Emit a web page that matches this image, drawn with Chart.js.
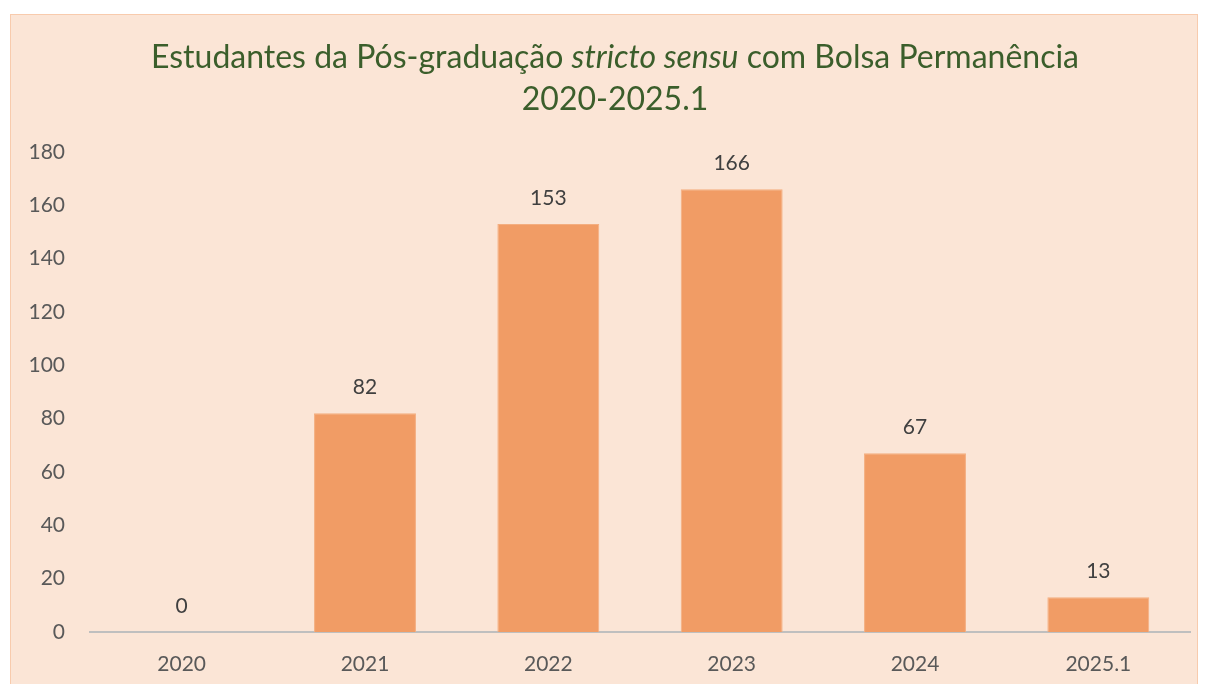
<!DOCTYPE html>
<html>
<head>
<meta charset="utf-8">
<script src="https://cdn.jsdelivr.net/npm/chart.js@4"></script>
<style>
  html, body { margin: 0; padding: 0; background: #ffffff; overflow: hidden; }
  #box {
    position: absolute; left: 10px; top: 14px;
    width: 1186px; height: 690px;
    border: 1px solid #F8CBAD;
    background: #FBE5D6;
  }
  #box canvas { display: block; }
</style>
</head>
<body>
<div id="box"><canvas id="bolsa" width="1186" height="680"></canvas></div>
<script>
const anos = ['2020', '2021', '2022', '2023', '2024', '2025.1'];
const estudantes = [0, 82, 153, 166, 67, 13];
const yTicks = [0, 20, 40, 60, 80, 100, 120, 140, 160, 180];

const fonte = 'Lato, "Open Sans", sans-serif';

// title with a partly italic first line
const tituloPlugin = {
    id: 'titulo',
    afterDraw(chart) {
        const ctx = chart.ctx;
        const partes = [
            ['normal', 'Estudantes da Pós-graduação '],
            ['italic', 'stricto sensu'],
            ['normal', ' com Bolsa Permanência'],
        ];
        ctx.save();
        ctx.fillStyle = '#3B5E2B';
        ctx.textBaseline = 'alphabetic';
        let total = 0;
        partes.forEach(p => {
            ctx.font = p[0] + ' 32px ' + fonte;
            total += ctx.measureText(p[1]).width;
        });
        let x = 604 - total / 2;
        ctx.textAlign = 'left';
        partes.forEach(p => {
            ctx.font = p[0] + ' 32px ' + fonte;
            ctx.fillText(p[1], x, 53);
            x += ctx.measureText(p[1]).width;
        });
        ctx.font = '32px ' + fonte;
        ctx.textAlign = 'center';
        ctx.fillText('2020-2025.1', 604, 95);
        ctx.restore();
    }
};

const valoresPlugin = {
    id: 'valores',
    afterDatasetsDraw(chart) {
        const ctx = chart.ctx;
        const meta = chart.getDatasetMeta(0);
        ctx.save();
        ctx.font = '21px ' + fonte;
        ctx.fillStyle = '#404040';
        ctx.textAlign = 'center';
        ctx.textBaseline = 'middle';
        meta.data.forEach((bar, i) => {
            ctx.fillText(String(estudantes[i]), bar.x, bar.y - 26);
        });
        ctx.restore();
    }
};

new Chart(document.getElementById('bolsa'), {
    type: 'bar',
    data: {
        labels: anos,
        datasets: [{
            data: estudantes,
            backgroundColor: '#F19C65',
            borderColor: '#F4AE80',
            borderWidth: 1,
            categoryPercentage: 1,
            barPercentage: 0.556,
        }],
    },
    options: {
        responsive: false,
        animation: false,
        layout: { padding: { top: 137, right: 7, bottom: 18, left: 0 } },
        plugins: {
            legend: { display: false },
            tooltip: { enabled: false },
        },
        scales: {
            x: {
                grid: { display: false },
                border: { display: true, color: '#BFBFBF', width: 2 },
                ticks: { color: '#595959', font: { family: fonte, size: 21 }, padding: 12 },
                afterFit: s => { s.height = 45; },
            },
            y: {
                min: 0,
                max: 180,
                grid: { display: false },
                border: { display: false },
                afterBuildTicks: s => { s.ticks = yTicks.map(v => ({ value: v })); },
                ticks: { color: '#595959', font: { family: fonte, size: 21 }, padding: 17 },
                afterFit: s => { s.width = 79; },
            },
        },
    },
    plugins: [tituloPlugin, valoresPlugin],
});
</script>
</body>
</html>
